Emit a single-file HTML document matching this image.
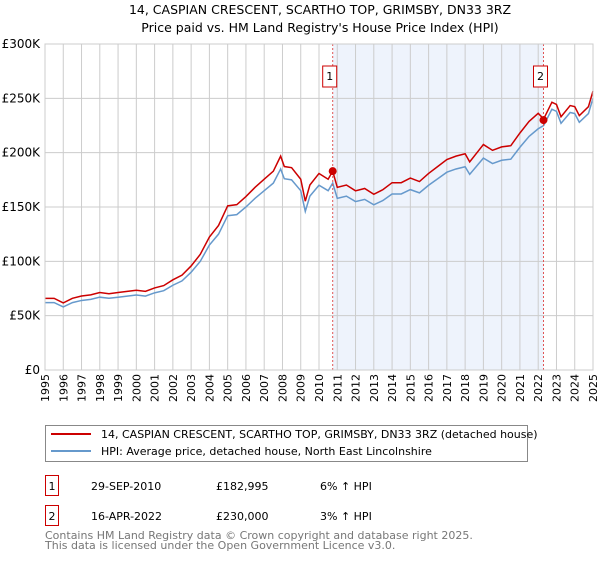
<!DOCTYPE html>
<html><head><meta charset="utf-8">
<style>
body{margin:0;background:#fff;font-family:"Liberation Sans","DejaVu Sans",sans-serif;}
svg text{font-family:"DejaVu Sans","Liberation Sans",sans-serif;}
</style></head>
<body>
<svg id="chart" width="600" height="560" xmlns="http://www.w3.org/2000/svg">
<text x="320" y="14" text-anchor="middle" font-size="12.5" fill="#000">14, CASPIAN CRESCENT, SCARTHO TOP, GRIMSBY, DN33 3RZ</text>
<text x="320" y="32" text-anchor="middle" font-size="12.5" fill="#000">Price paid vs. HM Land Registry's House Price Index (HPI)</text>
<g id="plot"></g>
<g>
<rect x="45.5" y="425.5" width="482" height="36" fill="#fff" stroke="#888"/>
<line x1="51" y1="434" x2="91" y2="434" stroke="#cc0000" stroke-width="2"/>
<text x="101" y="438" font-size="11">14, CASPIAN CRESCENT, SCARTHO TOP, GRIMSBY, DN33 3RZ (detached house)</text>
<line x1="51" y1="451" x2="91" y2="451" stroke="#6699cc" stroke-width="2"/>
<text x="101" y="455" font-size="11">HPI: Average price, detached house, North East Lincolnshire</text>
</g>
<g font-size="11">
<rect x="45.5" y="475.5" width="13" height="20" fill="#fff" stroke="#cc0000"/>
<text x="52" y="490" text-anchor="middle">1</text>
<text x="91" y="490">29-SEP-2010</text><text x="216" y="490">£182,995</text><text x="320" y="490">6% ↑ HPI</text>
<rect x="45.5" y="505.5" width="13" height="20" fill="#fff" stroke="#cc0000"/>
<text x="52" y="520" text-anchor="middle">2</text>
<text x="91" y="520">16-APR-2022</text><text x="216" y="520">£230,000</text><text x="320" y="520">3% ↑ HPI</text>
</g>
<text x="45" y="539" font-size="11" fill="#777">Contains HM Land Registry data © Crown copyright and database right 2025.</text>
<text x="45" y="549" font-size="11" fill="#777">This data is licensed under the Open Government Licence v3.0.</text>
</svg>
<script>
const dates=[1995,1995.5,1996,1996.5,1997,1997.5,1998,1998.5,1999,1999.5,2000,2000.5,2001,2001.5,2002,2002.5,2003,2003.5,2004,2004.5,2005,2005.5,2006,2006.5,2007,2007.5,2007.9,2008.1,2008.5,2009,2009.25,2009.5,2010,2010.5,2010.75,2011,2011.5,2012,2012.5,2013,2013.5,2014,2014.5,2015,2015.5,2016,2016.5,2017,2017.5,2018,2018.25,2018.75,2019,2019.5,2020,2020.5,2021,2021.5,2022,2022.3,2022.75,2023,2023.25,2023.75,2024,2024.25,2024.75,2025];
const hpiValues=[62,62,58,62,64,65,67,66,67,68,69,68,71,73,78,82,90,100,115,125,142,143,150,158,165,172,185,176,175,165,146,160,170,165,172,158,160,155,157,152,156,162,162,166,163,170,176,182,185,187,180,190,195,190,193,194,205,215,222,225,240,238,227,237,236,228,236,250];
const saleDates=[2010.75,2022.29];
const salePrices=[182995,230000];
const saleLabels=["1","2"];
const yTicks=[0,50,100,150,200,250,300];
const yTickLabels=["£0","£50K","£100K","£150K","£200K","£250K","£300K"];
const X0=45,X1=593,Y0=370,Y1=44;
const x=d=>X0+(d-1995)/30*(X1-X0);
const y=v=>Y0-v/300*(Y0-Y1);
const NS="http://www.w3.org/2000/svg";
const plot=document.getElementById('plot');
function mk(t,a,p){const e=document.createElementNS(NS,t);for(const k in a)e.setAttribute(k,a[k]);(p||plot).appendChild(e);return e;}
const shade=mk('rect',{x:x(saleDates[0]),y:Y1,width:x(saleDates[1])-x(saleDates[0]),height:Y0-Y1,fill:'#eef3fc'});


for(let yr=1995;yr<=2025;yr++){
 const g=mk('line',{x1:x(yr),x2:x(yr),y1:Y1,y2:Y0,stroke:'#ccc'});
 
 
 const t=mk('text',{x:0,y:0,'font-size':11,'text-anchor':'end',transform:`translate(${x(yr)+4},${Y0+4}) rotate(-90)`});
 t.textContent=yr;
 
 
}
yTicks.forEach((v,i)=>{
 const g=mk('line',{x1:X0,x2:X1,y1:y(v),y2:y(v),stroke:'#ccc'});
 
 
 const t=mk('text',{x:X0-5,y:y(v)+4,'font-size':12,'text-anchor':'end'});
 t.textContent=yTickLabels[i];
 
 
});
function factor(d){return d<saleDates[1]?salePrices[0]/1000/172:salePrices[1]/1000/224;}
const hp=mk('polyline',{points:dates.map((d,i)=>x(d)+','+y(hpiValues[i])).join(' '),fill:'none',stroke:'#6699cc','stroke-width':1.5});


const rp=mk('polyline',{points:dates.map((d,i)=>x(d)+','+y(hpiValues[i]*factor(d))).join(' '),fill:'none',stroke:'#cc0000','stroke-width':1.5});


saleDates.forEach((d,i)=>{
 const l=mk('line',{x1:x(d),x2:x(d),y1:Y1,y2:Y0,stroke:'#e05555','stroke-dasharray':'2,2'});
 
 
 const b=mk('rect',{x:x(d)-10,y:66,width:14,height:21,fill:'#fff',stroke:'#cc0000'});
 
 
 const t=mk('text',{x:x(d)-3,y:80,'font-size':11,'text-anchor':'middle'});
 t.textContent=saleLabels[i];
 
 
 const c=mk('circle',{cx:x(d),cy:y(salePrices[i]/1000),r:4,fill:'#cc0000'});
 
 
});
const ax=mk('rect',{x:X0,y:Y1,width:X1-X0,height:Y0-Y1,fill:'none',stroke:'#ccc'});


</script>
</body></html>
